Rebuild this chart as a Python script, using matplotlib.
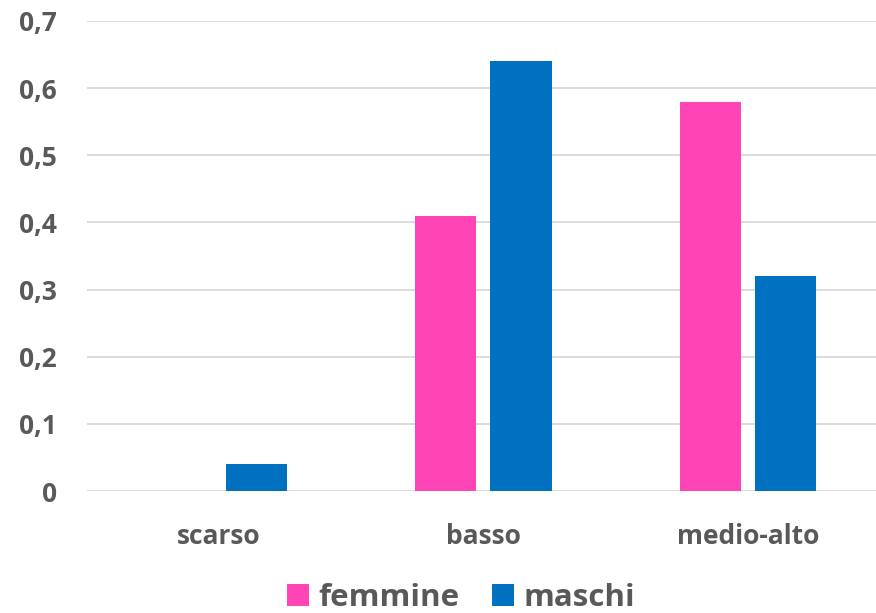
import matplotlib
matplotlib.use("Agg")
import matplotlib.pyplot as plt
import numpy as np
from matplotlib.patches import Patch

categories = ["scarso", "basso", "medio-alto"]
femmine = [0.0, 0.41, 0.58]
maschi = [0.04, 0.64, 0.32]
series_names = ["femmine", "maschi"]
yticks = [0, 0.1, 0.2, 0.3, 0.4, 0.5, 0.6, 0.7]
ytick_labels = ["0", "0,1", "0,2", "0,3", "0,4", "0,5", "0,6", "0,7"]

pink = "#FF45B5"
blue = "#0070C0"
txt = "#595959"
grid = "#D9D9D9"
font = "Open Sans"

W, H = 876, 613
fig = plt.figure(figsize=(W / 100, H / 100), dpi=100)
ax = fig.add_axes([87 / W, 1 - 491 / H, (W - 87) / W, (491 - 21) / H])

x = np.arange(len(categories))
bw = 0.231
off = 0.142
ax.bar(x - off, femmine, width=bw, color=pink, zorder=3)
ax.bar(x + off, maschi, width=bw, color=blue, zorder=3)

ax.set_xlim(-0.5, 2.485)
ax.set_ylim(0, 0.7)
ax.set_yticks(yticks)
ax.set_yticklabels(ytick_labels)
ax.set_xticks(x)
ax.set_xticklabels(categories)
for s in ax.spines.values():
    s.set_visible(False)
ax.yaxis.grid(True, color=grid, linewidth=1.3, zorder=0)
ax.set_axisbelow(True)
ax.tick_params(axis="both", length=0, colors=txt)
ax.tick_params(axis="y", pad=21.5)
ax.tick_params(axis="x", pad=23)
for lab in ax.get_yticklabels():
    lab.set_fontfamily(font)
    lab.set_fontweight("bold")
    lab.set_fontsize(19)
    lab.set_color(txt)
for lab in ax.get_xticklabels():
    lab.set_fontfamily(font)
    lab.set_fontweight("bold")
    lab.set_fontsize(19)
    lab.set_color(txt)

handles = [Patch(facecolor=pink, edgecolor="none"), Patch(facecolor=blue, edgecolor="none")]
leg = fig.legend(handles, series_names, loc="center", bbox_to_anchor=(461 / W, 1 - 598 / H),
                 ncol=2, frameon=False, handlelength=0.7, handleheight=0.7,
                 handletextpad=0.3, columnspacing=1.05,
                 prop={"family": font, "weight": "bold", "size": 22.5})
for t in leg.get_texts():
    t.set_color(txt)

fig.savefig("out.png", dpi=100)
